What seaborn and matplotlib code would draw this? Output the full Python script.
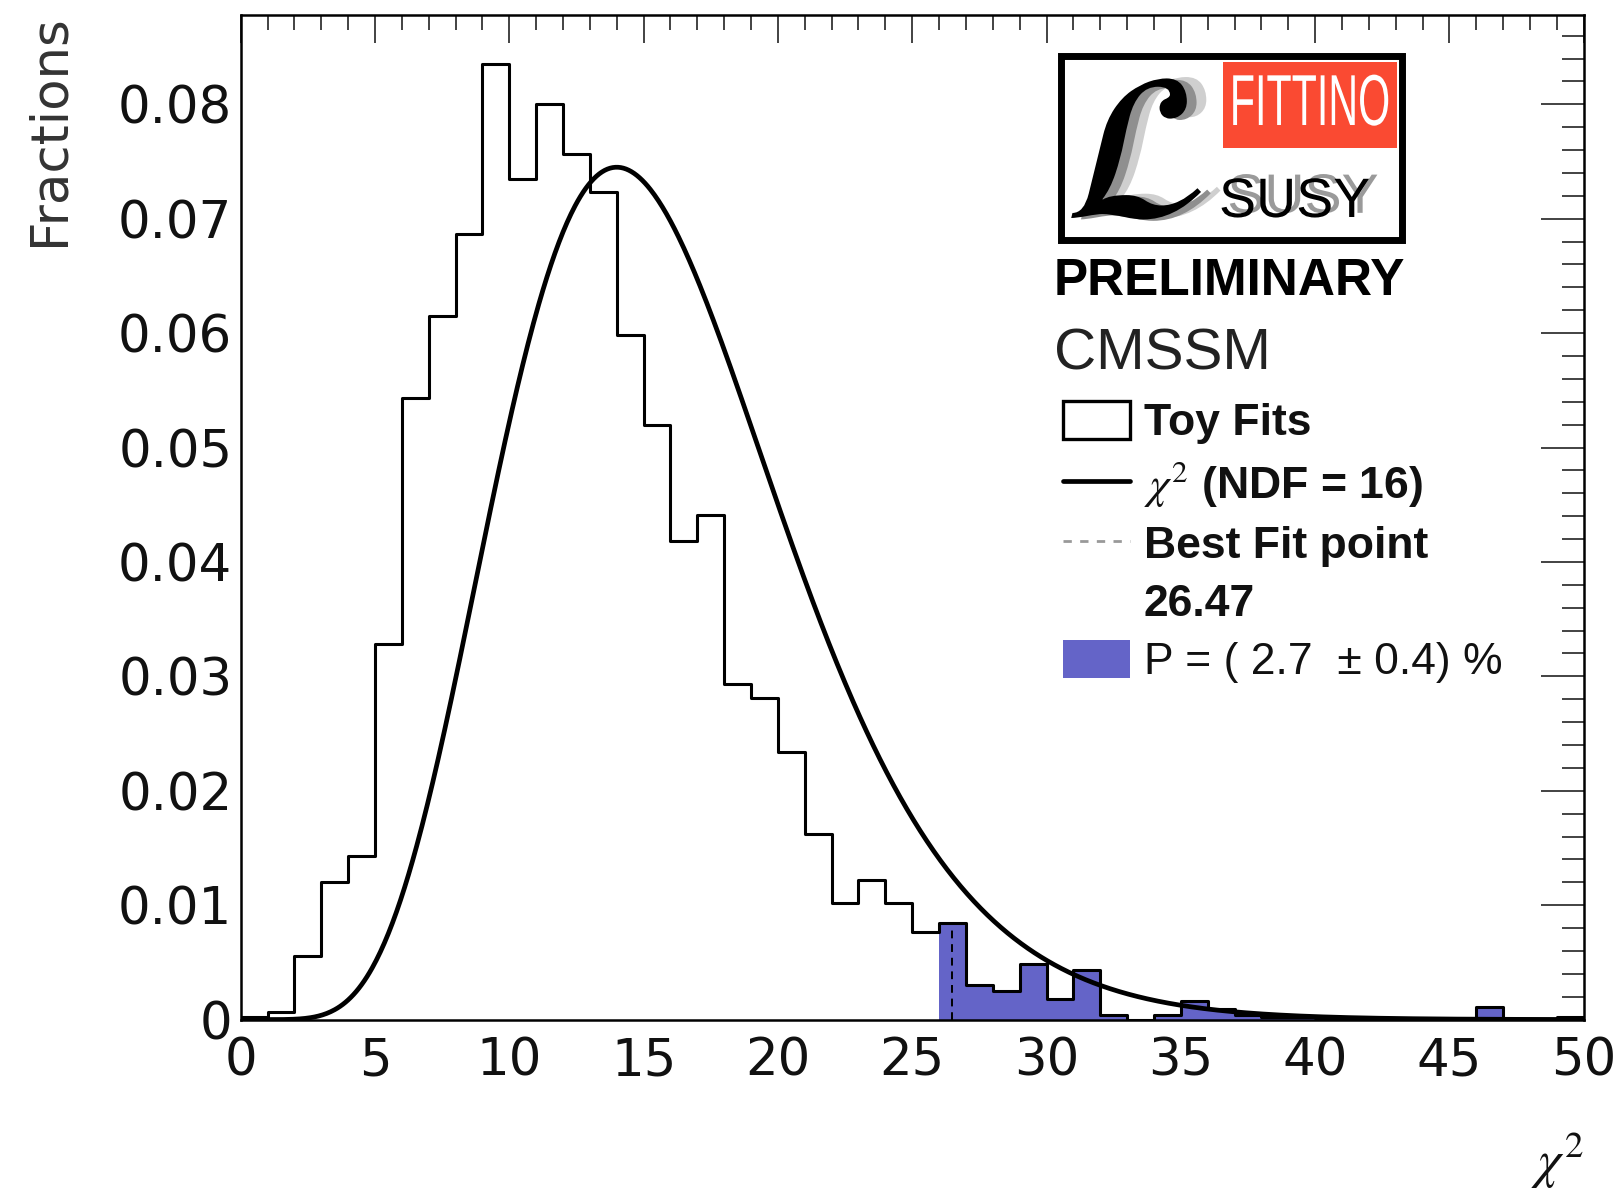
import math
import numpy as np
import pandas as pd
import matplotlib
matplotlib.use("Agg")
import matplotlib.pyplot as plt
import seaborn as sns
from matplotlib.patches import Patch, Rectangle
from matplotlib.lines import Line2D
from matplotlib.ticker import MultipleLocator
from matplotlib.transforms import Affine2D
import matplotlib.patheffects as pe

# ---------------- data ----------------
bin_edges = list(range(0, 51))          # chi2 bins of width 1, 0..50
toy_fractions = [
    0.0002, 0.0007, 0.0056, 0.0120, 0.0143, 0.0328, 0.0543, 0.0615, 0.0687, 0.0835,
    0.0735, 0.0800, 0.0757, 0.0723, 0.0598, 0.0520, 0.0418, 0.0441, 0.0293, 0.0281,
    0.0234, 0.0162, 0.0102, 0.0122, 0.0102, 0.0077, 0.0084, 0.0030, 0.0025, 0.0049,
    0.0018, 0.0043, 0.0004, 0.0000, 0.0004, 0.0016, 0.0009, 0.0004, 0.0002, 0.0002,
    0.0001, 0.0001, 0.0001, 0.0000, 0.0000, 0.0000, 0.0011, 0.0000, 0.0000, 0.0002,
]
ndf = 16
best_fit_chi2 = 26.47
tail_start_bin = 26

y_ticks = [0, 0.01, 0.02, 0.03, 0.04, 0.05, 0.06, 0.07, 0.08]
y_tick_labels = ["0", "0.01", "0.02", "0.03", "0.04", "0.05", "0.06", "0.07", "0.08"]
x_ticks = [0, 5, 10, 15, 20, 25, 30, 35, 40, 45, 50]
x_tick_labels = ["0", "5", "10", "15", "20", "25", "30", "35", "40", "45", "50"]

legend_labels = ["Toy Fits", r"$\chi^2$ (NDF = 16)", "Best Fit point", "26.47",
                 "P = ( 2.7  \u00b1 0.4) %"]
x_label = r"$\chi^2$"
y_label = "Fractions"

BLUE = "#6464c8"
RED = "#fa4a32"

# ---------------- style ----------------
sns.set_theme(style="white")
plt.rcParams["font.family"] = ["DejaVu Sans"]
plt.rcParams["mathtext.fontset"] = "stix"

W, H = 1620, 1191
fig = plt.figure(figsize=(W / 100, H / 100), dpi=100)
fig.patch.set_facecolor("white")
ax_left, ax_right, ax_top, ax_bottom = 240.7, 1583.7, 14.5, 1019.6
ax = fig.add_axes([ax_left / W, 1 - ax_bottom / H, (ax_right - ax_left) / W, (ax_bottom - ax_top) / H])

centers = [(a + b) / 2 for a, b in zip(bin_edges[:-1], bin_edges[1:])]
df = pd.DataFrame({"chi2": centers, "frac": toy_fractions})
tail = df.iloc[tail_start_bin:].reset_index(drop=True)

# blue tail fill
sns.histplot(data=tail, x="chi2", weights="frac", bins=bin_edges[tail_start_bin:],
             element="step", fill=True, color=BLUE, alpha=1.0, linewidth=0, ax=ax)
# outline
sns.histplot(data=df, x="chi2", weights="frac", bins=bin_edges,
             element="step", fill=False, color="black", linewidth=2.2, ax=ax)

# best fit dashed marker
ax.vlines(best_fit_chi2, 0, toy_fractions[int(best_fit_chi2)], colors="black",
          linestyles=(0, (4, 3)), linewidth=1.4, zorder=3)

# chi2 pdf with NDF degrees of freedom
xs = np.linspace(0, 50, 1001)
k = ndf
pdf = xs ** (k / 2 - 1) * np.exp(-xs / 2) / (2 ** (k / 2) * math.gamma(k / 2))
sns.lineplot(x=xs, y=pdf, ax=ax, color="black", linewidth=3.4, zorder=4)

ax.set_xlim(0, 50)
ax.set_ylim(0, 0.08785)
ax.set_xticks(x_ticks)
ax.set_xticklabels(x_tick_labels)
ax.set_yticks(y_ticks)
ax.set_yticklabels(y_tick_labels)
ax.xaxis.set_minor_locator(MultipleLocator(1))
ax.yaxis.set_minor_locator(MultipleLocator(0.002))
ax.tick_params(which="both", direction="in", top=True, right=True, color="#222", width=1.2)
ax.tick_params(axis="y", which="major", length=31, pad=6, labelsize=37, labelcolor="#111")
ax.tick_params(axis="y", which="minor", length=16)
ax.tick_params(axis="x", which="major", length=20, pad=12, labelsize=37, labelcolor="#111")
ax.tick_params(axis="x", which="minor", length=11)
for s in ax.spines.values():
    s.set_visible(True)
    s.set_color("black")
    s.set_linewidth(1.8)
ax.grid(False)

ax.set_xlabel("")
ax.set_ylabel(y_label, loc="top", fontsize=37, color="#333")
ax.yaxis.set_label_coords((75 - ax_left) / (ax_right - ax_left), 1.0)
ax.text(1.0, -(1131 - ax_bottom) / (ax_bottom - ax_top), x_label, transform=ax.transAxes,
        ha="right", va="top", fontsize=38, color="#111")

# ---------------- logo ----------------
def fx(px):
    return px / W

def fy(py):
    return 1 - py / H


class Stretch(pe.AbstractPathEffect):
    """Stretch glyph outlines about a fixed pixel centre (text stays real text)."""
    def __init__(self, sx, sy, cx, cy):
        super().__init__()
        self.sx, self.sy, self.cx, self.cy = sx, sy, cx, cy

    def draw_path(self, renderer, gc, tpath, affine, rgbFace=None):
        extra = Affine2D().translate(-self.cx, -self.cy).scale(self.sx, self.sy).translate(self.cx, self.cy)
        renderer.draw_path(gc, tpath, affine + extra, rgbFace)


fig.patches.append(Rectangle((fx(1060.5), fy(239.5)), (1401.5 - 1060.5) / W, (239.5 - 56.5) / H,
                             transform=fig.transFigure, facecolor="white", edgecolor="black",
                             linewidth=5, zorder=5))
fig.patches.append(Rectangle((fx(1223), fy(148)), 174 / W, 86 / H, transform=fig.transFigure,
                             facecolor=RED, edgecolor="none", zorder=6))
fit_txt = fig.text(fx(1310), fy(105), "FITTINO", ha="center", va="center", color="white",
                   fontsize=40, zorder=7, family=["Liberation Sans", "DejaVu Sans"])
renderer = fig.canvas.get_renderer()
bw = fit_txt.get_window_extent(renderer).width
fit_txt.set_fontsize(40 * 160 / bw)
fit_txt.set_path_effects([Stretch(1.0, 1.75, 1310, H - 104)])

fig.text(fx(1134), fy(160), r"$\mathcal{L}$", ha="center", va="center", color="black",
         fontsize=150, zorder=7,
         path_effects=[pe.SimplePatchShadow(offset=(14, 1), shadow_rgbFace="#cfcfcf", alpha=1),
                       pe.SimplePatchShadow(offset=(7, -1), shadow_rgbFace="#8f8f8f", alpha=1),
                       pe.Normal()])
fig.text(fx(1219), fy(217), "SUSY", ha="left", va="baseline", color="black",
         fontsize=40, family=["Liberation Sans", "DejaVu Sans"], zorder=8,
         path_effects=[pe.SimplePatchShadow(offset=(6, 3), shadow_rgbFace="#9a9a9a", alpha=1),
                       pe.Normal()])

fig.text(fx(1054), fy(295), "PRELIMINARY", ha="left", va="baseline", color="black",
         fontsize=37, fontweight="bold", family=["Liberation Sans", "DejaVu Sans"])
fig.text(fx(1054), fy(370), "CMSSM", ha="left", va="baseline", color="#222",
         fontsize=42, family=["Liberation Sans", "DejaVu Sans"])

# ---------------- legend ----------------
handles = [
    Patch(facecolor="white", edgecolor="black", linewidth=2.4),
    Line2D([], [], color="black", linewidth=3.4),
    Line2D([], [], color="#999999", linewidth=2, linestyle=(0, (3, 3))),
    Line2D([], [], color="none"),
    Patch(facecolor=BLUE, edgecolor="none"),
]
leg = ax.legend(handles, legend_labels, loc="upper left",
                bbox_to_anchor=(fx(1063), fy(401)), bbox_transform=fig.transFigure,
                frameon=False, prop={"family": ["Liberation Sans", "DejaVu Sans"], "weight": "bold", "size": 32},
                handlelength=1.5, handleheight=0.95, handletextpad=0.32, labelspacing=0.33,
                borderpad=0, borderaxespad=0)
for t in leg.get_texts():
    t.set_color("#111")
leg.get_texts()[4].set_fontweight("normal")

fig.savefig("out.png", dpi=100)
